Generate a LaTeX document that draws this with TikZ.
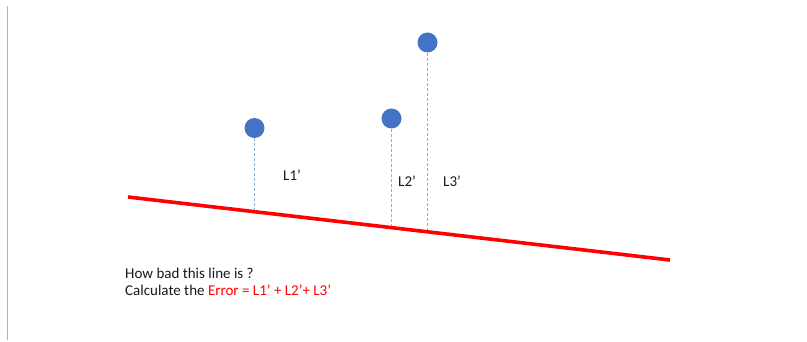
\documentclass[tikz,border=0pt]{standalone}
\usepackage{fontspec}
\setmainfont{Carlito}
\begin{document}
\begin{tikzpicture}[x=1pt,y=-1pt,
  pt/.style={circle,fill=ptblue,minimum size=20pt,inner sep=0pt},
  drop/.style={draw=dropblue,dash pattern=on 3pt off 2pt,line width=0.7pt},
  lab/.style={font=\fontsize{15}{18}\selectfont,text=black!90,inner sep=0pt,anchor=base west},
]
\definecolor{ptblue}{HTML}{4472C4}
\definecolor{dropblue}{HTML}{8FAADC}
\useasboundingbox (0,0) rectangle (807,342);
\fill[white] (0,0) rectangle (807,342);
\coordinate (gt) at (7.5,6);
\coordinate (gb) at (7.5,340);
\draw[black!30,line width=1pt] (gt) -- (gb);
\coordinate (rs) at (128,197);
\coordinate (re) at (670,260);
\node[pt] (p1) at (254.5,128) {};
\node[pt] (p2) at (391.5,118.5) {};
\node[pt] (p3) at (427.5,42.5) {};
\coordinate (f1) at (254.5,211.7);
\coordinate (f2) at (391.5,227.6);
\coordinate (f3) at (427.5,231.7);
\draw[drop] (p1.south) -- (f1);
\draw[drop] (p2.south) -- (f2);
\draw[drop] (p3.south) -- (f3);
\draw[red,line width=3.6pt] (rs) -- (re);
\node[lab] (l1) at (283,181) {L1'};
\node[lab] (l2) at (398,187) {L2'};
\node[lab] (l3) at (443,187) {L3'};
\node[lab] (t1) at (125,279) {How bad this line is ?};
\node[lab] (t2) at (125,295.5) {Calculate the \textcolor{red}{Error = L1' + L2'+ L3'}};
\end{tikzpicture}
\end{document}
